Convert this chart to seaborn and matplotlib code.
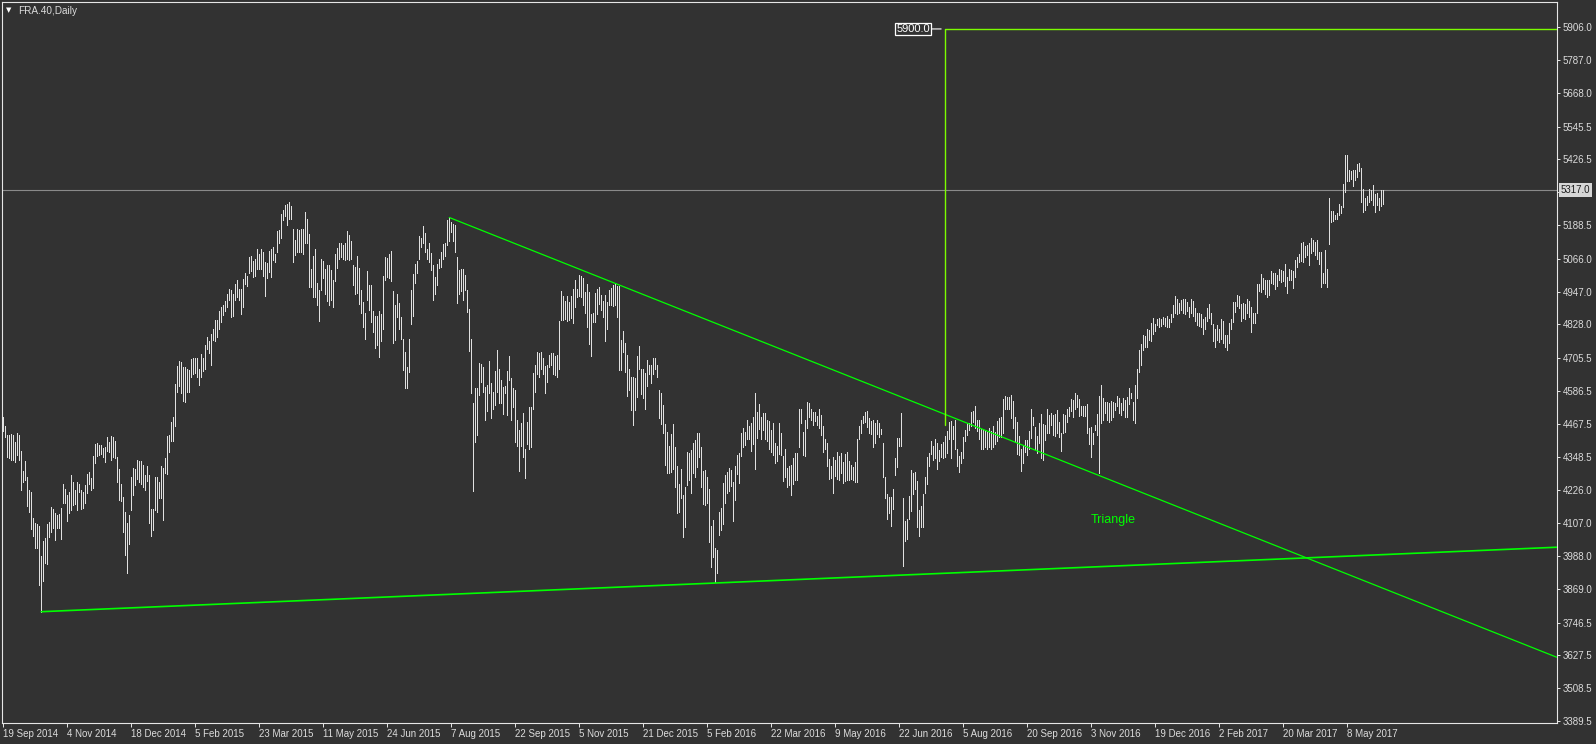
import matplotlib
matplotlib.use('Agg')
import matplotlib.pyplot as plt
import matplotlib.transforms as mtransforms
import seaborn as sns

# 설정
W, H = 1596, 744
BG = '#323232'
FG = '#dcdcdc'
BAR_COLOR = '#e0e0e0'
TREND_COLOR = '#00ff00'
TARGET_COLOR = '#7cfc00'

# FRA.40 daily bars (high / low), one per trading day
bar_high = [
    4493, 4459, 4427, 4427, 4430, 4427, 4402, 4433, 4427, 4369,
    4296, 4332, 4276, 4227, 4219, 4127, 4106, 4104, 4098, 3989,
    4043, 4052, 4104, 4112, 4167, 4158, 4143, 4137, 4139, 4163,
    4249, 4231, 4209, 4219, 4282, 4255, 4227, 4257, 4251, 4227,
    4221, 4245, 4284, 4294, 4272, 4352, 4394, 4399, 4389, 4389,
    4381, 4385, 4421, 4402, 4423, 4421, 4405, 4346, 4303, 4248,
    4203, 4149, 4106, 4137, 4276, 4308, 4303, 4336, 4332, 4334,
    4318, 4282, 4315, 4282, 4158, 4158, 4276, 4276, 4257, 4315,
    4306, 4342, 4424, 4427, 4473, 4493, 4612, 4677, 4695, 4690,
    4674, 4674, 4666, 4662, 4702, 4705, 4708, 4708, 4668, 4720,
    4708, 4753, 4783, 4769, 4792, 4813, 4844, 4845, 4877, 4892,
    4900, 4912, 4938, 4955, 4952, 4938, 4973, 4989, 4955, 4955,
    4992, 5016, 5004, 5071, 5077, 5059, 5064, 5101, 5085, 5102,
    5091, 5055, 5051, 5095, 5101, 5109, 5085, 5166, 5170, 5230,
    5245, 5261, 5264, 5271, 5257, 5176, 5134, 5174, 5172, 5176,
    5174, 5236, 5209, 5155, 5029, 5076, 5101, 4980, 4952, 5067,
    5059, 5029, 5045, 5043, 5025, 4989, 5085, 5107, 5122, 5125,
    5116, 5124, 5168, 5152,
    5131, 5043, 5037, 5076, 5033, 4952, 4910, 4868, 5021, 4970,
    4970, 4877, 4858, 4858, 4876, 4865, 5003, 5071, 5070, 5085,
    5095, 4949, 4898, 4940, 4906, 4856, 4777, 4729, 4674, 4777,
    4952, 5010, 5047, 5059, 5148, 5142, 5184, 5160, 5103, 5122,
    5089, 5043, 5001, 5047, 5065, 5091, 5119, 5122, 5206, 5216,
    5200, 5194, 5188, 5071, 5025, 5029, 5029, 5007, 4952, 4883,
    4777, 4544, 4596, 4596, 4689, 4684, 4672, 4602, 4608, 4695,
    4616, 4584, 4659, 4735, 4665, 4626, 4602, 4604, 4659, 4713,
    4632, 4596, 4592, 4481, 4445, 4469, 4505, 4378, 4475, 4527,
    4527, 4653, 4680, 4729, 4725, 4729, 4705, 4677, 4680, 4717,
    4723, 4723, 4713, 4717, 4840, 4949, 4931, 4912, 4931, 4910,
    4931, 4958, 4991, 4958, 5009, 5003, 4995, 4946, 4974, 4946,
    4865, 4868, 4943, 4958, 4964, 4934, 4914, 4934, 4910, 4952,
    4962, 4970, 4976, 4967, 4967, 4771, 4804, 4759, 4717, 4665,
    4636, 4636, 4632, 4713, 4749, 4665, 4668, 4653, 4698, 4680,
    4680, 4705, 4708, 4680, 4590, 4580, 4535, 4466, 4439, 4387,
    4430, 4466, 4384, 4314, 4251, 4302, 4210, 4239, 4366, 4363,
    4372, 4399, 4408, 4433, 4435, 4384, 4297, 4300, 4276, 4230,
    4097, 4118, 4016, 4010, 4149, 4163, 4254, 4282, 4294, 4306,
    4300, 4257, 4314, 4354, 4362, 4435, 4451, 4439, 4481, 4459,
    4469, 4493, 4581, 4509, 4538, 4493, 4505, 4505, 4481, 4479,
    4445, 4469, 4399, 4388, 4469, 4433, 4350, 4378, 4306, 4314,
    4318, 4342, 4360, 4362, 4520, 4520, 4439, 4481, 4545, 4544,
    4521, 4511, 4509, 4495, 4523, 4499, 4459, 4412, 4399, 4340,
    4314, 4348, 4338, 4366, 4350, 4360, 4330, 4358, 4366, 4334,
    4318, 4312, 4328, 4411, 4459, 4483, 4497, 4511, 4514, 4487,
    4479, 4481, 4471, 4481, 4469, 4447, 4399, 4276, 4213, 4203,
    4201, 4230, 4342, 4415, 4415, 4505, 4199, 4116, 4124, 4205,
    4300, 4290, 4294, 4261, 4155, 4169, 4213, 4273, 4348, 4360,
    4405, 4388, 4412, 4399, 4372, 4394, 4400, 4423, 4441, 4475,
    4479, 4459, 4483, 4378, 4350, 4366, 4418, 4445, 4469, 4469,
    4509, 4515, 4532, 4483, 4483, 4448, 4445, 4445, 4439, 4454,
    4442, 4459, 4439, 4479, 4489, 4493, 4557, 4568, 4566, 4566,
    4572, 4551, 4493, 4475, 4423, 4378, 4390, 4408, 4408, 4441,
    4520, 4491, 4457, 4423, 4471, 4503, 4466, 4463, 4520, 4499,
    4508, 4499, 4503, 4517, 4475, 4433, 4503, 4499, 4520, 4529,
    4556, 4553, 4578, 4572, 4556, 4532, 4532, 4532, 4538, 4451,
    4457, 4433, 4463, 4503, 4568, 4608, 4563, 4547, 4547, 4544,
    4551, 4547, 4544, 4568, 4560, 4544, 4560, 4553, 4566, 4596,
    4580, 4547, 4608, 4668, 4737, 4757, 4789, 4786, 4813, 4807,
    4834, 4850, 4831, 4846, 4853, 4846, 4856, 4853, 4858, 4846,
    4865, 4898, 4931, 4919, 4906, 4916, 4922, 4922, 4910, 4890,
    4922, 4914, 4886, 4870, 4870, 4865, 4846, 4856, 4886, 4902,
    4870, 4829, 4810, 4826, 4810, 4846, 4841, 4789, 4789, 4834,
    4846, 4910, 4910, 4934, 4931, 4904, 4906, 4902, 4922, 4914,
    4892, 4870, 4870, 4974, 4974, 5010, 4995, 4989, 4991, 4989,
    5021, 5013, 5015, 5007, 5031, 5025, 5022, 5047, 5001, 5031,
    5025, 5022, 5061, 5071, 5085, 5122, 5128, 5112, 5116, 5122,
    5140, 5134, 5128, 5136, 5091, 5091, 5013, 5097, 5031, 5288,
    5240, 5240, 5224, 5233, 5264, 5257, 5337, 5442, 5442,
    5390, 5385, 5390, 5390, 5409, 5415, 5394, 5321, 5288, 5293,
    5321, 5315, 5333, 5303, 5305, 5288, 5317, 5317,
]
bar_low = [
    4442, 4421, 4346, 4342, 4338, 4336, 4330, 4354, 4336, 4227,
    4257, 4263, 4170, 4149, 4086, 4062, 4016, 4016, 3883, 3786,
    3898, 3961, 3959, 4058, 4076, 4088, 4046, 4088, 4091, 4048,
    4179, 4179, 4116, 4143, 4155, 4173, 4175, 4155, 4221, 4158,
    4161, 4179, 4215, 4249, 4227, 4233, 4327, 4350, 4353, 4357,
    4346, 4329, 4369, 4365, 4336, 4348, 4342, 4255, 4191, 4188,
    4076, 3991, 3925, 4030, 4155, 4209, 4245, 4269, 4257, 4251,
    4239, 4227, 4261, 4106, 4062, 4082, 4155, 4149, 4197, 4197,
    4118, 4288, 4285, 4366, 4406, 4406, 4460, 4584, 4604, 4581,
    4551, 4547, 4584, 4584, 4638, 4647, 4653, 4636, 4610, 4636,
    4660, 4666, 4738, 4723, 4680, 4771, 4769, 4781, 4810, 4838,
    4862, 4877, 4892, 4916, 4856, 4859, 4916, 4928, 4916, 4865,
    4892, 4974, 4967, 5015, 5022, 5001, 5003, 5028, 5031, 5028,
    5003, 4932, 4998, 5019, 5001, 5061, 5055, 5091, 5125, 5140,
    5206, 5222, 5188, 5212, 5212, 5055, 5079, 5091, 5091, 5091,
    5085, 5122, 5122, 4964, 4964, 4926, 4926, 4898, 4841, 4952,
    4995, 4938, 4914, 4898, 4916, 4890, 4985, 5033, 5067, 5073,
    5067, 5061, 5067, 5061,
    5067, 4970, 4940, 4943, 4904, 4868, 4819, 4777, 4916, 4880,
    4838, 4801, 4744, 4753, 4711, 4769, 4813, 4989, 5001, 4995,
    4985, 4761, 4771, 4856, 4813, 4777, 4662, 4599, 4599, 4654,
    4828, 4859, 4979, 5013, 5067, 5109, 5124, 5091, 5065, 5055,
    5027, 4918, 4938, 4970, 5033, 5035, 5064, 5076, 5116, 5131,
    5164, 5131, 5091, 4906, 4940, 4950, 4918, 4952, 4874, 4731,
    4578, 4225, 4402, 4427, 4572, 4620, 4584, 4483, 4515, 4580,
    4487, 4523, 4535, 4584, 4544, 4544, 4503, 4580, 4499, 4626,
    4483, 4529, 4402, 4387, 4297, 4387, 4348, 4270, 4396, 4378,
    4382, 4523, 4584, 4650, 4638, 4668, 4650, 4580, 4620, 4674,
    4680, 4648, 4644, 4638, 4665, 4844, 4844, 4846, 4841, 4844,
    4850, 4834, 4892, 4928, 4931, 4926, 4898, 4870, 4819, 4757,
    4714, 4838, 4838, 4865, 4902, 4880, 4856, 4769, 4813, 4898,
    4898, 4894, 4898, 4856, 4662, 4662, 4729, 4656, 4569, 4592,
    4517, 4463, 4517, 4566, 4668, 4575, 4560, 4523, 4604, 4648,
    4614, 4648, 4665, 4638, 4487, 4466, 4433, 4318, 4290, 4288,
    4294, 4302, 4237, 4143, 4149, 4197, 4058, 4094, 4245, 4263,
    4218, 4290, 4275, 4312, 4348, 4239, 4176, 4173, 4179, 4040,
    3949, 3985, 3892, 3925, 4064, 4084, 4104, 4181, 4215, 4225,
    4242, 4116, 4191, 4285, 4254, 4350, 4384, 4390, 4411, 4414,
    4369, 4396, 4303, 4417, 4447, 4411, 4445, 4411, 4406, 4378,
    4366, 4354, 4324, 4334, 4358, 4354, 4261, 4276, 4237, 4245,
    4211, 4251, 4263, 4263, 4384, 4469, 4354, 4350, 4454, 4493,
    4483, 4463, 4478, 4463, 4451, 4427, 4366, 4378, 4314, 4266,
    4270, 4218, 4278, 4266, 4263, 4288, 4254, 4261, 4263, 4263,
    4266, 4263, 4257, 4257, 4414, 4435, 4469, 4475, 4457, 4433,
    4430, 4382, 4399, 4430, 4421, 4430, 4276, 4197, 4121, 4145,
    4098, 4157, 4282, 4312, 4387, 4387, 3953, 4043, 4048, 4124,
    4152, 4213, 4230, 4092, 4060, 4094, 4094, 4215, 4251, 4314,
    4358, 4336, 4342, 4302, 4334, 4348, 4342, 4346, 4362, 4414,
    4342, 4411, 4375, 4314, 4294, 4324, 4342, 4406, 4427, 4445,
    4459, 4475, 4454, 4442, 4411, 4375, 4378, 4382, 4378, 4382,
    4375, 4384, 4396, 4406, 4421, 4418, 4435, 4520, 4520, 4523,
    4487, 4454, 4402, 4358, 4354, 4297, 4324, 4366, 4354, 4378,
    4417, 4463, 4378, 4360, 4399, 4342, 4338, 4408, 4433, 4435,
    4463, 4427, 4423, 4435, 4421, 4370, 4433, 4439, 4475, 4495,
    4515, 4493, 4523, 4529, 4495, 4499, 4495, 4495, 4435, 4396,
    4346, 4394, 4445, 4426, 4288, 4471, 4483, 4505, 4483, 4475,
    4481, 4491, 4517, 4532, 4505, 4499, 4517, 4493, 4491, 4541,
    4560, 4483, 4471, 4560, 4656, 4680, 4735, 4747, 4747, 4771,
    4769, 4795, 4805, 4825, 4819, 4822, 4829, 4822, 4819, 4819,
    4838, 4856, 4870, 4865, 4870, 4880, 4868, 4865, 4877, 4856,
    4870, 4858, 4841, 4825, 4822, 4817, 4795, 4813, 4841, 4850,
    4829, 4769, 4745, 4771, 4765, 4777, 4761, 4745, 4735, 4759,
    4810, 4838, 4874, 4894, 4886, 4841, 4850, 4846, 4868, 4856,
    4801, 4832, 4834, 4870, 4950, 4946, 4955, 4940, 4928, 4934,
    4979, 4974, 4958, 4967, 4989, 4983, 4986, 4967, 4943, 4989,
    4991, 4962, 5001, 5037, 5055, 5059, 5055, 5071, 5079, 5043,
    5088, 5095, 5079, 5067, 5047, 4964, 4977, 4977, 4964, 5119,
    5200, 5204, 5209, 5209, 5224, 5233, 5254, 5309, 5349,
    5349, 5354, 5329, 5351, 5363, 5385, 5273, 5236, 5242, 5261,
    5273, 5279, 5261, 5236, 5261, 5245, 5257, 5264,
]

date_labels = [
    '19 Sep 2014', '4 Nov 2014', '18 Dec 2014', '5 Feb 2015', '23 Mar 2015',
    '11 May 2015', '24 Jun 2015', '7 Aug 2015', '22 Sep 2015', '5 Nov 2015',
    '21 Dec 2015', '5 Feb 2016', '22 Mar 2016', '9 May 2016', '22 Jun 2016',
    '5 Aug 2016', '20 Sep 2016', '3 Nov 2016', '19 Dec 2016', '2 Feb 2017',
    '20 Mar 2017', '8 May 2017',
]
BARS_PER_LABEL = 32

price_ticks = [
    5906.0, 5787.0, 5668.0, 5545.5, 5426.5, 5307.5, 5188.5, 5066.0, 4947.0,
    4828.0, 4705.5, 4586.5, 4467.5, 4348.5, 4226.0, 4107.0, 3988.0, 3869.0,
    3746.5, 3627.5, 3508.5, 3389.5,
]

# trend line anchors (bar index, price)
upper_x = [223, 307]
upper_y = [5216, 4974]
lower_x = [19, 356]
lower_y = [3786, 3890]

# target line: starts at bar 471, price level 5900
target_bar = 471
target_from = 4465
target_price = 5900.0

bid_price = 5317.0
label_bar, label_price = 555, 4119

X_MIN, X_MAX = -0.5, 776.7
Y_MIN, Y_MAX = 3382.2, 5996.7


def ray(xs, ys, x_end):
    slope = (ys[1] - ys[0]) / (xs[1] - xs[0])
    return [xs[0], x_end], [ys[0], ys[0] + slope * (x_end - xs[0])]


sns.set_theme(style='dark', rc={
    'axes.facecolor': BG,
    'figure.facecolor': BG,
    'savefig.facecolor': BG,
    'axes.edgecolor': '#e6e6e6',
    'axes.linewidth': 0.8,
})
plt.rcParams['font.family'] = ['Liberation Sans', 'DejaVu Sans']

fig = plt.figure(figsize=(W / 100, H / 100), dpi=100)
ax = fig.add_axes([2.3 / W, (H - 723) / H, (1556.7 - 2.3) / W, (723 - 2.3) / H])

idx = list(range(len(bar_high)))
ax.vlines(idx, bar_low, bar_high, colors=BAR_COLOR, linewidth=0.72,
          antialiased=False, zorder=3)

# bid line
ax.axhline(bid_price, color='#8a8a8a', linewidth=0.8, zorder=2)

# triangle lines
ux, uy = ray(upper_x, upper_y, X_MAX)
lx, ly = ray(lower_x, lower_y, X_MAX)
sns.lineplot(x=ux, y=uy, color=TREND_COLOR, linewidth=0.9, ax=ax, zorder=4)
sns.lineplot(x=lx, y=ly, color=TREND_COLOR, linewidth=1.2, ax=ax, zorder=4)

# target line
ax.plot([target_bar, target_bar, X_MAX], [target_from, target_price, target_price],
        color=TARGET_COLOR, linewidth=1.0, zorder=4)
ax.annotate(f'{target_price:.1f}', xy=(target_bar, target_price), xytext=(-11, 0),
            textcoords='offset points', ha='right', va='center', color='white',
            fontsize=8,
            bbox=dict(boxstyle='square,pad=0.1', fc=BG, ec='white', lw=0.9),
            arrowprops=dict(arrowstyle='-', color='white', lw=0.8,
                            shrinkA=0, shrinkB=3), zorder=6)

ax.text(label_bar, label_price, 'Triangle', color=TREND_COLOR, fontsize=9,
        ha='center', va='center', zorder=5)

ax.set_xlim(X_MIN, X_MAX)
ax.set_ylim(Y_MIN, Y_MAX)

# axes: the 5307.5 label sits under the current price tag, so leave it blank
ax.set_xticks([i * BARS_PER_LABEL for i in range(len(date_labels))])
ax.set_xticklabels(date_labels)
for lbl in ax.get_xticklabels():
    lbl.set_ha('left')
ax.yaxis.tick_right()
ax.set_yticks(price_ticks)
ax.set_yticklabels(['' if abs(p - bid_price) < 20 else f'{p:.1f}' for p in price_ticks])
ax.tick_params(axis='x', direction='out', length=3, width=0.7, color='#e6e6e6',
               labelsize=7, labelcolor=FG, pad=1.5, bottom=True)
ax.tick_params(axis='y', direction='out', length=2.2, width=0.7, color='#e6e6e6',
               labelsize=7, labelcolor=FG, pad=2, right=True, left=False)
ax.grid(False)

# current price tag on the price scale
trans = mtransforms.blended_transform_factory(ax.transAxes, ax.transData)
ax.text(1 + 18.8 / (1556.7 - 2.3), bid_price, f'{bid_price:.1f}', transform=trans,
        ha='center', va='center', fontsize=7, color='#1e1e1e', clip_on=False,
        bbox=dict(boxstyle='square,pad=0.22', fc='#d6d6d6', ec='none'), zorder=10)

# title in the corner
fig.text(6 / W, 1 - 10.5 / H, '\u25bc', fontsize=5, color='white', va='center',
         family='DejaVu Sans')
fig.text(18 / W, 1 - 10.5 / H, 'FRA.40,Daily', fontsize=7.2, color=FG, va='center')

fig.savefig('out.png', dpi=100, facecolor=BG)
